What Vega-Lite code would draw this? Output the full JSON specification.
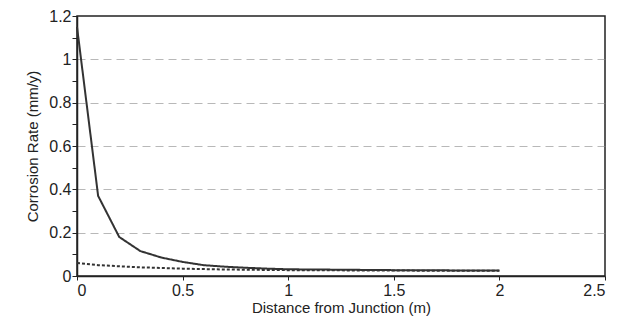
{
  "$schema": "https://vega.github.io/schema/vega-lite/v6.json",
  "width": 528,
  "height": 260,
  "autosize": "none",
  "padding": {"left": 77, "top": 16, "right": 18, "bottom": 46},
  "background": "white",
  "config": {
    "view": {"stroke": "#222", "strokeWidth": 1.5},
    "font": "Liberation Sans"
  },
  "data": {
    "values": [
      {"x": 0, "y": 1.15, "s": "a"},
      {"x": 0.1, "y": 0.37, "s": "a"},
      {"x": 0.2, "y": 0.18, "s": "a"},
      {"x": 0.3, "y": 0.115, "s": "a"},
      {"x": 0.4, "y": 0.085, "s": "a"},
      {"x": 0.5, "y": 0.065, "s": "a"},
      {"x": 0.6, "y": 0.05, "s": "a"},
      {"x": 0.7, "y": 0.043, "s": "a"},
      {"x": 0.8, "y": 0.038, "s": "a"},
      {"x": 0.9, "y": 0.034, "s": "a"},
      {"x": 1.0, "y": 0.031, "s": "a"},
      {"x": 1.5, "y": 0.027, "s": "a"},
      {"x": 2.0, "y": 0.025, "s": "a"},
      {"x": 0, "y": 0.06, "s": "b"},
      {"x": 0.1, "y": 0.05, "s": "b"},
      {"x": 0.2, "y": 0.045, "s": "b"},
      {"x": 0.3, "y": 0.04, "s": "b"},
      {"x": 0.5, "y": 0.034, "s": "b"},
      {"x": 0.7, "y": 0.03, "s": "b"},
      {"x": 1.0, "y": 0.027, "s": "b"},
      {"x": 1.5, "y": 0.025, "s": "b"},
      {"x": 2.0, "y": 0.024, "s": "b"}
    ]
  },
  "mark": {"type": "line", "strokeWidth": 2, "color": "#333"},
  "encoding": {
    "x": {
      "field": "x", "type": "quantitative",
      "scale": {"domain": [0, 2.5], "nice": false},
      "axis": {
        "title": "Distance from Junction (m)",
        "values": [0, 0.5, 1, 1.5, 2, 2.5],
        "format": "~g",
        "grid": false,
        "domainColor": "#222", "domainWidth": 1.5,
        "tickColor": "#222", "tickSize": 4,
        "labelFontSize": 16, "labelColor": "#222", "labelPadding": 2,
        "titleFontSize": 15, "titleFontWeight": "normal", "titleColor": "#222", "titlePadding": 2
      }
    },
    "y": {
      "field": "y", "type": "quantitative",
      "scale": {"domain": [0, 1.2], "nice": false},
      "axis": {
        "title": "Corrosion Rate (mm/y)",
        "values": [0, 0.1, 0.2, 0.3, 0.4, 0.5, 0.6, 0.7, 0.8, 0.9, 1, 1.1, 1.2],
        "labelExpr": "round(datum.value*10)%2==0 ? format(datum.value,'~g') : ''",
        "grid": true,
        "gridColor": "#888",
        "gridDash": [8, 5],
        "gridWidth": 1,
        "gridOpacity": {"condition": {"test": "round(datum.value*10)%2==1 || datum.value==0 || datum.value>1.15", "value": 0}, "value": 0.6},
        "domainColor": "#222", "domainWidth": 1.5,
        "tickColor": "#222",
        "tickSize": 5,
        "labelFontSize": 16, "labelColor": "#222", "labelPadding": 1,
        "titleFontSize": 15, "titleFontWeight": "normal", "titleColor": "#222", "titlePadding": 8
      }
    },
    "strokeDash": {
      "field": "s", "type": "nominal",
      "scale": {"domain": ["a", "b"], "range": [[1, 0], [3, 2]]},
      "legend": null
    }
  }
}
